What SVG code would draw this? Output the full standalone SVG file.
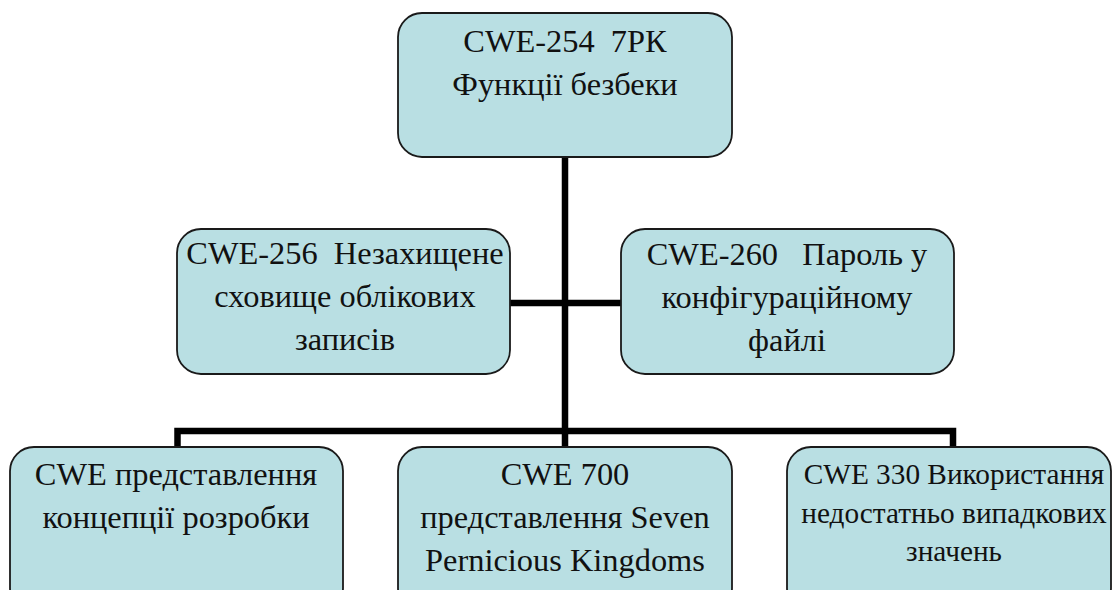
<svg xmlns="http://www.w3.org/2000/svg" width="1113" height="590" viewBox="0 0 1113 590">
<style>
.box{fill:#b9dfe3;stroke:#1a1a1a;stroke-width:1.8}
.t{font-family:"Liberation Serif","Times New Roman",serif;font-size:32.4px;fill:#111;text-anchor:middle;white-space:pre}
.s{font-size:29.3px}
.c{fill:none;stroke:#000;stroke-width:6.5}
</style>
<rect width="1113" height="590" fill="#fff"/>
<g id="connectors">
<path class="c" d="M565,157 V447"/>
<path class="c" d="M510,303 H621"/>
<path class="c" d="M177.5,447 V431 H953 V447"/>
</g>
<g id="n254">
<rect class="box" x="398" y="13" width="334" height="144" rx="24"/>
<text class="t" x="565" y="52" xml:space="preserve">CWE-254  7РК</text>
<text class="t" x="565" y="95">Функції безбеки</text>
</g>
<g id="n256">
<rect class="box" x="177" y="229" width="333" height="145" rx="24"/>
<text class="t" x="345" y="264" xml:space="preserve">CWE-256  Незахищене</text>
<text class="t" x="345" y="307">сховище облікових</text>
<text class="t" x="345" y="350">записів</text>
</g>
<g id="n260">
<rect class="box" x="621" y="229" width="333" height="145" rx="24"/>
<text class="t" x="787" y="265" xml:space="preserve">CWE-260   Пароль у</text>
<text class="t" x="787" y="308">конфігураційному</text>
<text class="t" x="787" y="351">файлі</text>
</g>
<g id="ndev">
<rect class="box" x="10" y="447" width="333" height="165" rx="24"/>
<text class="t" x="176" y="485">CWE представлення</text>
<text class="t" x="176" y="528">концепції розробки</text>
</g>
<g id="n700">
<rect class="box" x="398" y="447" width="334" height="165" rx="24"/>
<text class="t" x="565" y="485">CWE 700</text>
<text class="t" x="565" y="528">представлення Seven</text>
<text class="t" x="565" y="571">Pernicious Kingdoms</text>
</g>
<g id="n330">
<rect class="box" x="787" y="447" width="324" height="165" rx="24"/>
<text class="t s" x="954" y="484">CWE 330 Використання</text>
<text class="t s" x="954" y="523">недостатньо випадкових</text>
<text class="t s" x="954" y="561">значень</text>
</g>
</svg>
